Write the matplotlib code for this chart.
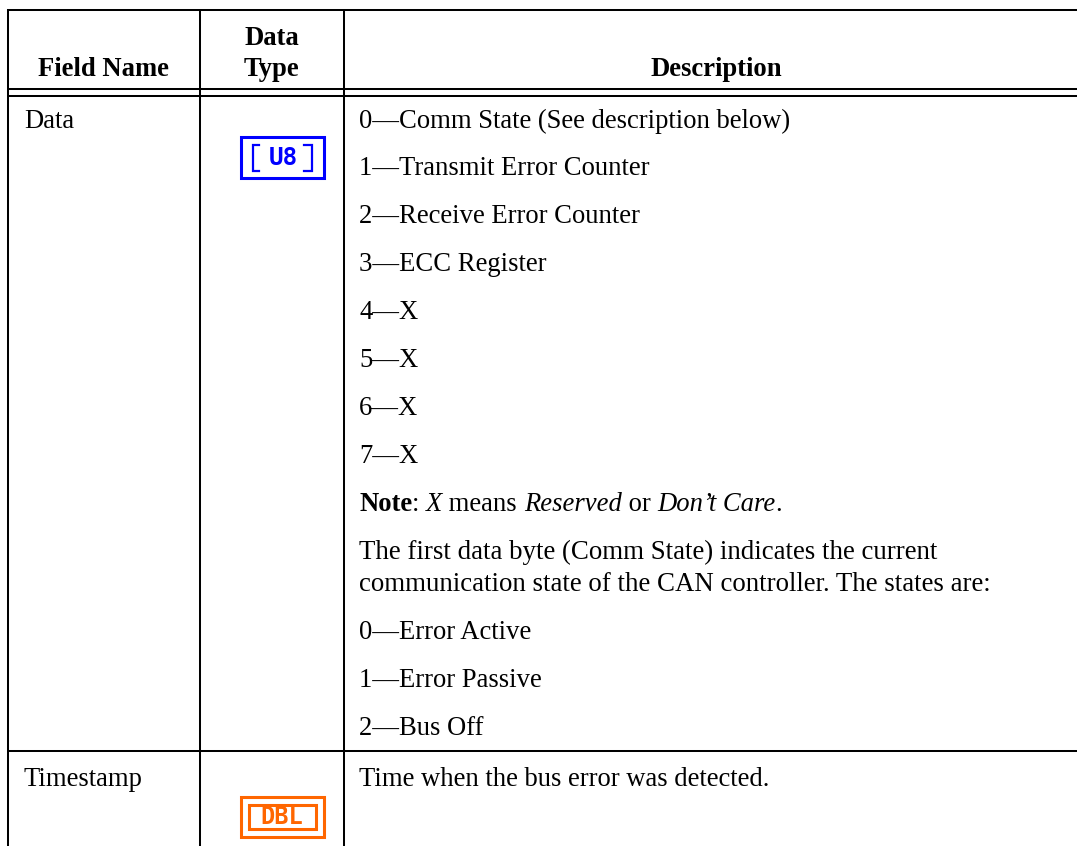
import matplotlib
matplotlib.use("Agg")
import matplotlib.pyplot as plt
from matplotlib.patches import Rectangle

# table content
headers = ["Field Name", "Data\nType", "Description"]
field_names = ["Data", "Timestamp"]
data_rows = ["0\u2014Comm State (See description below)",
             "1\u2014Transmit Error Counter",
             "2\u2014Receive Error Counter",
             "3\u2014ECC Register",
             "4\u2014X",
             "5\u2014X",
             "6\u2014X",
             "7\u2014X"]
note_parts = [("Note", "bold", "normal"), (": ", "normal", "normal"), ("X", "normal", "italic"),
              (" means ", "normal", "normal"), ("Reserved", "normal", "italic"), (" or ", "normal", "normal"),
              ("Don\u2019t Care", "normal", "italic"), (".", "normal", "normal")]
para_lines = ["The first data byte (Comm State) indicates the current",
              "communication state of the CAN controller. The states are:"]
state_rows = ["0\u2014Error Active", "1\u2014Error Passive", "2\u2014Bus Off"]
timestamp_desc = "Time when the bus error was detected."
icon_labels = ["U8", "DBL"]

BLUE = "#0000ff"
ORANGE = "#ff6600"
FONT = "Liberation Serif"
SIZE = 19.2

fig = plt.figure(figsize=(10.77, 8.46), dpi=100)
ax = fig.add_axes([0, 0, 1, 1])
ax.set_xlim(0, 1077)
ax.set_ylim(846, 0)
ax.axis("off")


def hline(y, x0=7, x1=1077):
    ax.plot([x0, x1], [y, y], color="black", lw=1.45, solid_capstyle="butt")


def vline(x, y0=9, y1=846):
    ax.plot([x, x], [y0, y1], color="black", lw=1.45, solid_capstyle="butt")


def put(x, y, s, size=SIZE, **kw):
    return ax.text(x, y, s, family=FONT, fontsize=size, va="baseline", **kw)


# grid
hline(10)
hline(89)
hline(96)
hline(751)
vline(8)
vline(200)
vline(344)

# header
put(104, 76, headers[0], weight="bold", ha="center")
put(272, 45, headers[1].split("\n")[0], weight="bold", ha="center")
put(272, 76, headers[1].split("\n")[1], weight="bold", ha="center")
put(716, 76, headers[2], weight="bold", ha="center")

# field names
put(24, 128, field_names[0])
put(24, 786, field_names[1])

# description column
put(359, 128, data_rows[0])
y = 175
for row in data_rows[1:]:
    put(359, y, row)
    y += 48

# note line has mixed styles so chain the pieces
r = fig.canvas.get_renderer()
x = 359
for s, w, st in note_parts:
    t = put(x, y, s, weight=w, style=st)
    x = ax.transData.inverted().transform((t.get_window_extent(r).x1, 0))[0]
y += 48

for s in para_lines:
    put(359, y, s, size=19.32)
    y += 32
y += 16
for row in state_rows:
    put(359, y, row)
    y += 48
put(359, 786, timestamp_desc)

# U8 icon
ax.add_patch(Rectangle((240.5, 137.5), 83, 41, fill=False, ec=BLUE, lw=2.2, joinstyle="miter"))
ax.plot([259, 253, 253, 259], [145, 145, 171, 171], color=BLUE, lw=1.6, solid_joinstyle="miter")
ax.plot([304, 312, 312, 304], [145, 145, 171, 171], color=BLUE, lw=1.6, solid_joinstyle="miter")
ax.text(283.5, 158, icon_labels[0], family="DejaVu Sans Mono", weight="bold", fontsize=17.5,
        color=BLUE, ha="center", va="center")

# DBL icon
ax.add_patch(Rectangle((240.5, 797.5), 83, 40, fill=False, ec=ORANGE, lw=2.2, joinstyle="miter"))
ax.add_patch(Rectangle((248.5, 805.5), 67, 24, fill=False, ec=ORANGE, lw=2.2, joinstyle="miter"))
ax.text(281.5, 817.5, icon_labels[1], family="DejaVu Sans Mono", weight="bold", fontsize=17,
        color=ORANGE, ha="center", va="center")

fig.savefig("out.png", dpi=100)
